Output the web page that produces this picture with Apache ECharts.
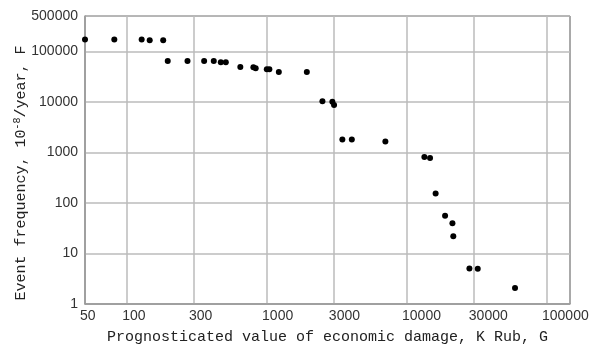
<!DOCTYPE html>
<html>
<head>
<meta charset="utf-8">
<script src="https://cdn.jsdelivr.net/npm/echarts@6/dist/echarts.min.js"></script>
<style>html,body{margin:0;padding:0;background:#fff}#c{width:601px;height:350px}</style>
</head>
<body>
<div id="c"></div>
<script>
// Prognosticated economic damage (K Rub) and event frequency (10^-8/year)
const damage = [50, 81, 127, 145, 181, 195, 270, 355, 416, 467, 507, 644, 798, 829, 995, 1038, 1213, 1923,
  2485, 2927, 3010, 3450, 4030, 7000, 13300, 14600, 16000, 18700, 21100, 21400, 27900, 32000, 59100];
const frequency = [172000, 172000, 172000, 165000, 165000, 64400, 64400, 64400, 64400, 60700, 60700, 49100, 48400, 46300, 44200, 44200, 39100, 39100,
  10230, 10000, 8700, 1795, 1795, 1640, 808, 772, 153, 55.7, 39.8, 21.8, 5.05, 5.0, 2.07];
const xTicks = [50, 100, 300, 1000, 3000, 10000, 30000, 100000];
const yTicks = [1, 10, 100, 1000, 10000, 100000, 500000];

const points = damage.map((d, i) => [d, frequency[i]]);

const chart = echarts.init(document.getElementById('c'), null, {renderer: 'canvas'});
chart.setOption({
  animation: false,
  backgroundColor: '#fff',
  grid: {left: 85, right: 31, top: 16, bottom: 45, show: true, borderColor: '#555', borderWidth: 1, backgroundColor: 'transparent'},
  xAxis: {
    type: 'log', logBase: 10, min: 50, max: 146000,
    name: 'Prognosticated value of economic damage, K Rub, G',
    nameLocation: 'middle', nameGap: 26,
    nameTextStyle: {fontFamily: 'Liberation Mono', fontSize: 15, color: '#222'},
    axisLine: {show: true, lineStyle: {color: '#999', width: 1.5}},
    axisTick: {show: false, customValues: xTicks},
    axisLabel: {customValues: xTicks, fontFamily: 'Liberation Sans', fontSize: 14, color: '#333', margin: 5, align: 'left', padding: [0, 0, 0, -5], formatter: v => String(Math.round(v))},
    splitLine: {show: true, lineStyle: {color: '#bbb', width: 1.5}}
  },
  yAxis: {
    type: 'log', logBase: 10, min: 1, max: 500000,
    axisLine: {show: true, lineStyle: {color: '#999', width: 1.5}},
    axisTick: {show: false, customValues: yTicks},
    axisLabel: {customValues: yTicks, fontFamily: 'Liberation Sans', fontSize: 14, color: '#333', margin: 7, formatter: v => String(Math.round(v))},
    splitLine: {show: true, lineStyle: {color: '#bbb', width: 1.5}}
  },
  graphic: [{
    type: 'text', x: 21, y: 173, rotation: Math.PI / 2,
    style: {
      text: 'Event frequency, 10{sup|-8}/year, F',
      fontFamily: 'Liberation Mono', fontSize: 15, fill: '#222',
      align: 'center', verticalAlign: 'middle', lineHeight: 18,
      rich: {sup: {fontFamily: 'Liberation Mono', fontSize: 10, verticalAlign: 'top', lineHeight: 18, fill: '#222'}}
    }
  }],
  series: [{
    type: 'scatter', data: points, symbol: 'circle', symbolSize: 6,
    itemStyle: {color: '#000', opacity: 1}
  }]
});
</script>
</body>
</html>
